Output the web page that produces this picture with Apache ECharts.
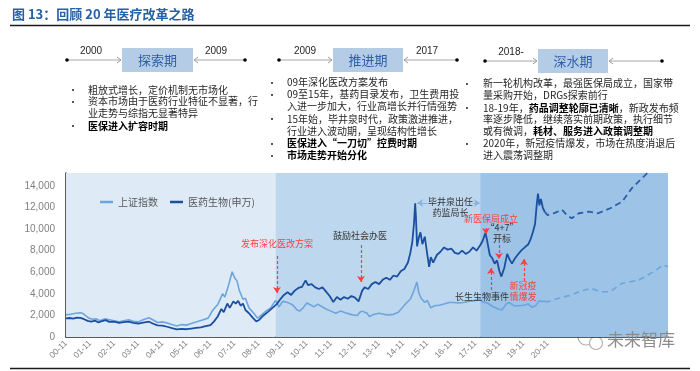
<!DOCTYPE html>
<html><head><meta charset="utf-8">
<script src="https://cdn.jsdelivr.net/npm/echarts@6/dist/echarts.min.js"></script>
<style>html,body{margin:0;padding:0;background:#fff}#c{width:700px;height:371px}</style>
</head><body><div id="c"></div>
<script>
// ---------- data ----------
const xTickLabels = ['00-11','01-11','02-11','03-11','04-11','05-11','06-11','07-11','08-11','09-11','10-11','11-11','12-11','13-11','14-11','15-11','16-11','17-11','18-11','19-11','20-11'];
const seriesNames = ['上证指数', '医药生物(申万)'];
const phaseBounds = [0, 8.7, 17.2, 25]; // years since 2000-11

// 上证指数 (t = years since 2000-11)
const sseT = [0.0,0.2,0.4,0.6,0.7,0.8,0.95,1.1,1.25,1.4,1.6,1.75,2.0,2.2,2.4,2.6,2.8,3.0,3.2,3.45,3.6,3.8,4.0,4.2,4.4,4.6,4.8,5.0,5.2,5.5,5.7,5.9,6.1,6.3,6.5,6.6,6.75,6.9,7.0,7.1,7.2,7.35,7.45,7.6,7.8,7.95,8.1,8.3,8.5,8.7,8.85,9.0,9.2,9.4,9.6,9.7,9.85,10.0,10.3,10.45,10.6,10.8,11.0,11.2,11.4,11.6,11.9,12.1,12.2,12.3,12.5,12.6,12.8,13.0,13.2,13.4,13.6,13.8,14.0,14.15,14.3,14.45,14.57,14.65,14.75,14.9,15.0,15.15,15.3,15.5,15.7,15.9,16.1,16.3,16.5,16.7,16.9,17.1,17.2,17.3,17.5,17.7,17.9,18.1,18.3,18.4,18.6,18.8,19.0,19.2,19.35,19.5,19.65,19.75,19.88];
const sseV = [2070,2100,2200,2240,2180,2000,1750,1650,1690,1500,1680,1620,1500,1400,1500,1600,1450,1400,1600,1780,1600,1350,1400,1300,1150,1010,1150,1100,1250,1450,1600,1750,2500,3000,4000,3700,4800,6050,5500,5200,4300,3500,3600,2700,2200,1750,2000,2400,2700,3400,2800,3300,3200,3000,2500,2400,2700,3150,2800,3050,2850,2600,2400,2200,2400,2250,2050,2000,2300,2400,2200,1900,2100,2200,2100,2050,2100,2300,2800,3200,3500,4300,5100,4100,3600,3200,3400,2700,2900,2950,3050,3200,3200,3150,3200,3300,3350,3450,3550,3250,3150,2850,2650,2500,3100,3200,2900,2900,2950,3050,2750,2900,3350,3300,3300];

// 医药生物(申万)
const medT = [0.0,0.15,0.3,0.45,0.6,0.75,0.9,1.05,1.2,1.35,1.5,1.65,1.8,2.0,2.2,2.4,2.6,2.8,3.0,3.2,3.45,3.6,3.8,4.0,4.2,4.4,4.6,4.8,5.0,5.2,5.4,5.6,5.8,6.0,6.15,6.3,6.45,6.55,6.7,6.8,6.95,7.05,7.15,7.25,7.35,7.45,7.6,7.75,7.9,8.0,8.2,8.4,8.6,8.75,8.9,9.05,9.2,9.35,9.5,9.65,9.8,9.95,10.05,10.2,10.35,10.5,10.65,10.8,10.95,11.1,11.25,11.4,11.55,11.7,11.85,12.0,12.15,12.3,12.4,12.55,12.7,12.85,13.0,13.15,13.3,13.45,13.6,13.75,13.9,14.05,14.2,14.3,14.38,14.45,14.5,14.53,14.58,14.65,14.72,14.8,14.9,15.0,15.08,15.15,15.25,15.4,15.55,15.7,15.85,16.0,16.15,16.3,16.45,16.6,16.75,16.9,17.05,17.2,17.3,17.42,17.5,17.6,17.7,17.8,17.9,18.0,18.08,18.2,18.32,18.42,18.52,18.62,18.75,18.9,19.05,19.2,19.3,19.4,19.48,19.55,19.6,19.66,19.72,19.8,19.88];
const medV = [1720,1760,1700,1800,1780,1650,1500,1430,1520,1350,1480,1560,1400,1420,1300,1380,1420,1300,1250,1340,1420,1250,1080,1060,950,820,700,760,720,780,840,900,1000,1100,1450,1900,2600,2300,3100,2700,3300,3100,3350,2900,3100,2500,2200,1800,1450,1550,2000,2350,2750,3050,3500,3900,4150,3900,4300,4550,4650,5250,4800,4900,4600,4450,4600,4200,3800,3250,3700,3450,3700,3550,3800,3650,3300,4300,4600,4450,4900,5100,4900,5300,5500,5300,5700,5600,6100,6300,6900,7800,8800,10500,12400,11200,8400,9200,9700,8600,9300,7700,6500,7400,6900,7600,7900,8300,8100,8200,7800,7700,8000,7700,7900,8300,8000,8500,8900,9650,8800,7600,7300,6800,7100,6100,5600,6400,7700,7200,6800,7200,7600,8000,8300,8600,9100,9800,10500,12300,13300,12200,12800,12000,11600];

// projections (dashed)
const sseProjT = [19.88,20.0,20.5,21.0,21.3,21.8,22.2,22.6,23.1,23.8,24.4,24.8,25.0];
const sseProjV = [3300,3270,3620,3900,4200,4510,4200,4200,4980,5280,6050,6670,6520];
const medProjT = [19.88,20.0,20.3,20.6,20.8,21.0,21.3,21.7,22.1,22.6,23.1,23.5,24.2,25.0];
const medProjV = [11600,11300,11500,11800,11300,11000,11470,11620,11470,11930,12550,13800,15320,16800];

// annotations: [t, fromValue, toValue]
const redArrows = [[8.76,7507,4078],[12.25,8527,5097],[17.44,10100,9547],[17.98,8527,7229],[17.65,4356,6395],[19.02,5190,7229]];
const bjqArrow = [14.58, 15.0, 16.9, 17.19, 12420];

// ---------- chart ----------
const FONT = '"Noto Sans CJK SC","Noto Sans",sans-serif';
const zip = (a, b) => a.map((v, i) => [v, b[i]]);
const chart = echarts.init(document.getElementById('c'));

const regionColors = ['#deebf7', '#bdd7ee', '#9dc3e6'];
const markAreaData = regionColors.map((c, i) => [{xAxis: phaseBounds[i], itemStyle: {color: c}}, {xAxis: phaseBounds[i + 1]}]);

const redLines = redArrows.map(a => [{coord: [a[0], a[1]], symbol: 'none'}, {coord: [a[0], a[2]], symbol: 'arrow'}]);
const blueLines = [
  [{coord: [bjqArrow[0], bjqArrow[4]], symbol: 'arrow'}, {coord: [bjqArrow[1], bjqArrow[4]], symbol: 'none'}],
  [{coord: [bjqArrow[2], bjqArrow[4]], symbol: 'none'}, {coord: [bjqArrow[3], bjqArrow[4]], symbol: 'arrow'}]
];

// graphics
const g = [];
function txt(x, y, text, o) {
  g.push({type: 'text', x, y, silent: true, z: 100,
    style: Object.assign({text, fill: '#262626', fontSize: 10, fontFamily: FONT, textAlign: 'left', align: 'left', textVerticalAlign: 'middle', verticalAlign: 'middle'}, o || {})});
}
function rich(x, y, text, o) {
  g.push({type: 'text', x, y, silent: true, z: 100,
    style: Object.assign({text, fill: '#262626', fontSize: 10, fontFamily: FONT, textAlign: 'left', align: 'left', textVerticalAlign: 'middle', verticalAlign: 'middle',
      rich: {n: {fontSize: 10, fontFamily: FONT, fill: '#262626', color: '#262626'}, b: {fontSize: 10, fontFamily: FONT, fontWeight: 'bold', fill: '#000', color: '#000'}}}, o || {})});
}
function line(x1, y1, x2, y2, color, w) {
  g.push({type: 'line', silent: true, shape: {x1, y1, x2, y2}, style: {stroke: color, lineWidth: w || 1}});
}
function dot(x, y) { g.push({type: 'circle', silent: true, shape: {cx: x, cy: y, r: 1.8}, style: {fill: '#000'}}); }
function chev(x, y, dir) {
  g.push({type: 'polyline', silent: true, shape: {points: [[x - 4 * dir, y - 3], [x, y], [x - 4 * dir, y + 3]]}, style: {stroke: '#9a9a9a', lineWidth: 1, fill: 'none'}});
}
// title
txt(12, 14, '图 13：回顾 20 年医疗改革之路', {fill: '#2461a8', fontSize: 13, fontWeight: 'bold'});
line(10, 25.5, 690, 25.5, '#1a1a1a', 1.5);
line(10, 368.5, 690, 368.5, '#1a1a1a', 1.5);

// phase timelines
const phases = [
  {d1: 67, b: 122, bw: 71, d2: 245, y: 60, l1: '2000', l1x: 91, l2: '2009', l2x: 216, name: '探索期'},
  {d1: 279, b: 333, bw: 70, d2: 457, y: 60, l1: '2009', l1x: 305, l2: '2017', l2x: 427, name: '推进期'},
  {d1: 485, b: 538, bw: 70, d2: 662, y: 61, l1: '2018-', l1x: 511, l2: '', l2x: 0, name: '深水期'}
];
phases.forEach(p => {
  line(p.d1, p.y, p.b - 1, p.y, '#a6a6a6');
  line(p.b + p.bw + 1, p.y, p.d2, p.y, '#a6a6a6');
  chev(p.b - 1, p.y, 1);
  chev(p.b + p.bw + 1, p.y, -1);
  dot(p.d1, p.y); dot(p.d2, p.y);
  g.push({type: 'rect', silent: true, shape: {x: p.b, y: p.y - 12, width: p.bw, height: 24}, style: {fill: '#b4cce6'}});
  txt(p.b + p.bw / 2, p.y, p.name, {fill: '#2e5ea8', fontSize: 13, textAlign: 'center', align: 'center'});
  txt(p.l1x, p.y - 9, p.l1, {fontSize: 10, fontFamily: 'Liberation Sans, Arial, sans-serif', textAlign: 'center', align: 'center'});
  if (p.l2) txt(p.l2x, p.y - 9, p.l2, {fontSize: 10, fontFamily: 'Liberation Sans, Arial, sans-serif', textAlign: 'center', align: 'center'});
});

// bullet texts
const bul = (bx, tx, rows) => rows.forEach(r => {
  if (r[1]) txt(bx, r[0], '•', {fontSize: 9, textAlign: 'center', align: 'center'});
  rich(tx, r[0], r[2]);
});
bul(73, 88, [
  [90, true, '{n|粗放式增长，定价机制无市场化}'],
  [101.7, true, '{n|资本市场由于医药行业特征不显著，行}'],
  [113.3, false, '{n|业走势与综指无显著特异}'],
  [126, true, '{b|医保进入扩容时期}']
]);
bul(272, 287, [
  [82.7, true, '{n|09年深化医改方案发布}'],
  [94.5, true, '{n|09至15年，基药目录发布，卫生费用投}'],
  [106.7, false, '{n|入进一步加大，行业高增长并行情强势}'],
  [119, true, '{n|15年始，毕井泉时代，政策激进推进，}'],
  [131, false, '{n|行业进入波动期，呈现结构性增长}'],
  [143.3, true, '{b|医保进入“一刀切”控费时期}'],
  [155.3, true, '{b|市场走势开始分化}']
]);
bul(467, 483, [
  [83.3, true, '{n|新一轮机构改革，最强医保局成立，国家带}'],
  [95.3, false, '{n|量采购开始，DRGs探索前行}'],
  [108, true, '{n|18-19年，}{b|药品调整轮廓已清晰}{n|，新政发布频}'],
  [119.5, false, '{n|率逐步降低，继续落实前期政策，执行细节}'],
  [131, false, '{n|或有微调，}{b|耗材、服务进入政策调整期}'],
  [143.3, true, '{n|2020年，新冠疫情爆发，市场在热度消退后}'],
  [155.5, false, '{n|进入震荡调整期}']
]);

// chart annotations
const red = '#ff3b3b';
const ann = (x, y, t, c, o) => txt(x, y, t, Object.assign({fill: c, fontSize: 9, textAlign: 'center', align: 'center'}, o || {}));
ann(277, 244, '发布深化医改方案', red);
ann(360, 236, '鼓励社会办医', '#333');
ann(450.5, 202, '毕井泉出任', '#333');
ann(450.5, 212.5, '药监局长', '#333');
ann(491, 219, '新医保局成立', red);
ann(502, 228, '“4+7”', '#333');
ann(502, 238.5, '开标', '#333');
ann(482, 296.5, '长生生物事件', '#333');
ann(523, 286, '新冠疫', red);
ann(523, 296.5, '情爆发', red);

// watermark
g.push({type: 'circle', silent: true, shape: {cx: 586, cy: 337, r: 8}, style: {fill: '#fff', stroke: '#b0b0b0', lineWidth: 1.2}});
g.push({type: 'circle', silent: true, shape: {cx: 596, cy: 343, r: 6.5}, style: {fill: '#fff', stroke: '#b0b0b0', lineWidth: 1.2}});
txt(607, 340, '未来智库', {fill: '#8c8c8c', fontSize: 17});

const option = {
  animation: false,
  grid: {left: 66, right: 32, top: 173, bottom: 34},
  legend: {
    left: 95, top: 192, icon: 'rect', itemWidth: 13, itemHeight: 2.5, itemGap: 12,
    data: seriesNames,
    textStyle: {fontSize: 10, color: '#595959', fontFamily: FONT}
  },
  xAxis: {
    type: 'value', min: 0, max: 25, interval: 1,
    axisLine: {lineStyle: {color: '#262626', width: 1.5}},
    axisTick: {show: false}, splitLine: {show: false},
    axisLabel: {rotate: 45, fontSize: 8.5, color: '#7f7f7f', margin: 5, fontFamily: 'Liberation Sans, Arial, sans-serif',
      formatter: v => (Number.isInteger(v) && v < xTickLabels.length) ? xTickLabels[v] : ''}
  },
  yAxis: {
    type: 'value', min: 0, max: 15200, interval: 2000,
    axisLine: {show: true, lineStyle: {color: '#262626', width: 1.5}},
    axisTick: {show: false}, splitLine: {show: false},
    axisLabel: {fontSize: 10, color: '#7f7f7f', margin: 11, showMaxLabel: false, fontFamily: 'Liberation Sans, Arial, sans-serif',
      formatter: v => v.toLocaleString('en-US')}
  },
  series: [
    {name: seriesNames[0], type: 'line', data: zip(sseT, sseV), showSymbol: false, z: 3,
      lineStyle: {color: '#6da5dc', width: 1.6}, itemStyle: {color: '#6da5dc'},
      markArea: {silent: true, data: markAreaData},
      markLine: {silent: true, symbolSize: 6, label: {show: false}, lineStyle: {color: '#86b3e0', type: 'solid', width: 1}, data: blueLines}
    },
    {name: seriesNames[1], type: 'line', data: zip(medT, medV), showSymbol: false, z: 4,
      lineStyle: {color: '#1b4f9f', width: 1.8}, itemStyle: {color: '#1b4f9f'},
      markLine: {silent: true, symbolSize: 6, label: {show: false}, lineStyle: {color: red, type: [3, 2], width: 1.2}, data: redLines}
    },
    {name: 'sseProj', type: 'line', data: zip(sseProjT, sseProjV), showSymbol: false, z: 3,
      lineStyle: {color: '#6da5dc', width: 1.6, type: [6, 4]}},
    {name: 'medProj', type: 'line', data: zip(medProjT, medProjV), showSymbol: false, z: 4,
      lineStyle: {color: '#2a5ea8', width: 1.8, type: [6, 4]}}
  ],
  graphic: g
};
chart.setOption(option);
</script></body></html>
